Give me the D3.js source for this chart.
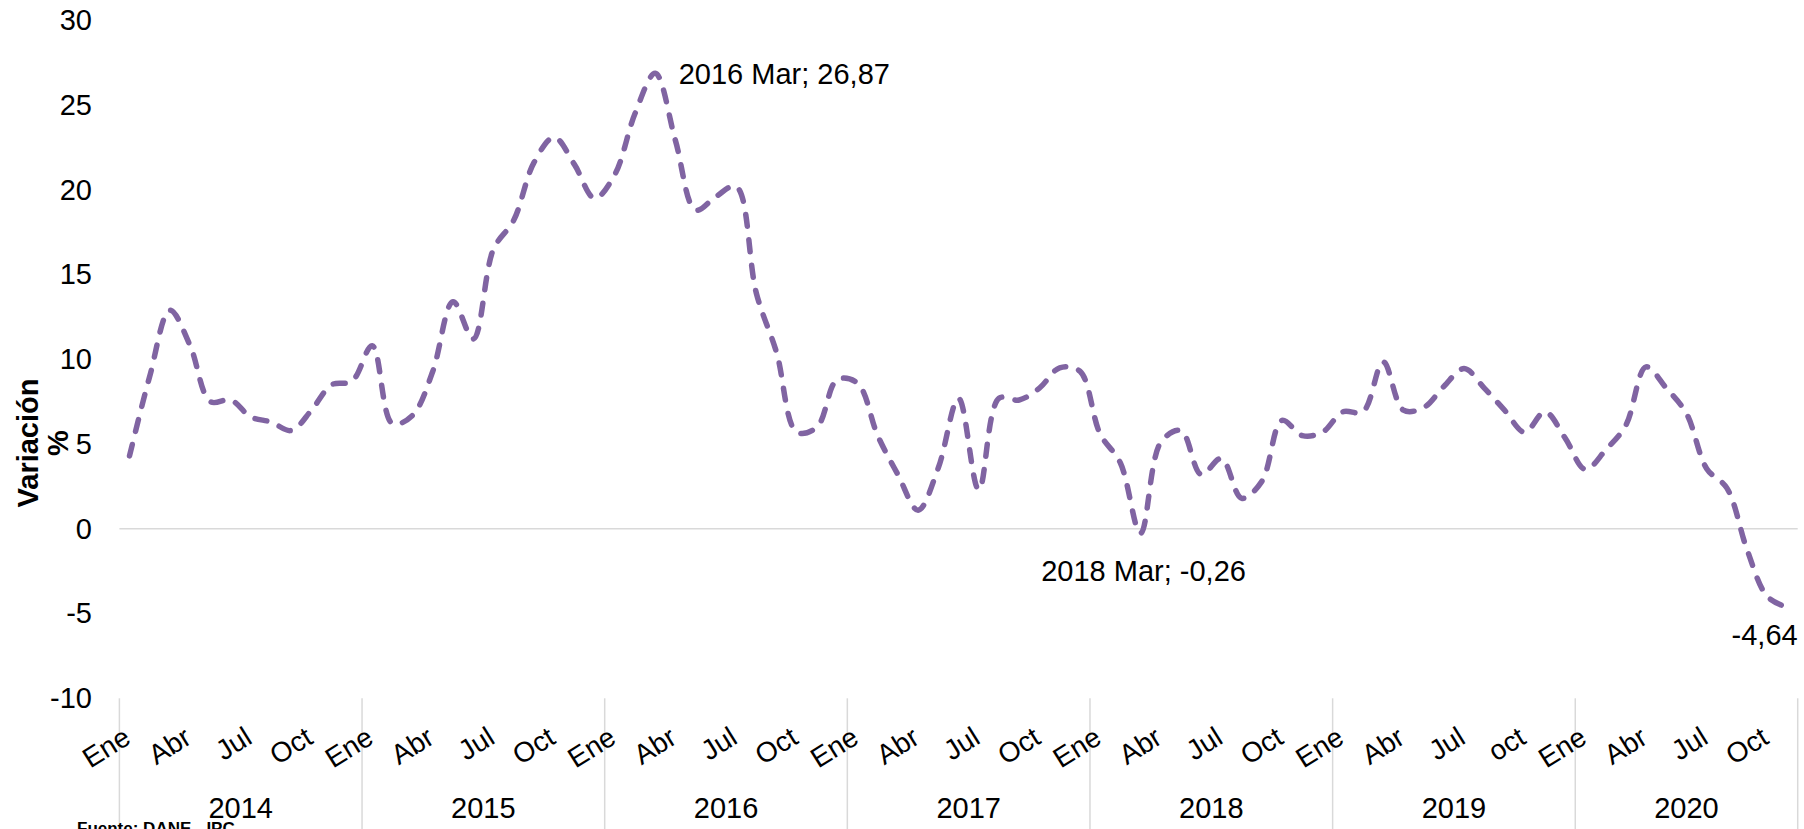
<!DOCTYPE html>
<html>
<head>
<meta charset="utf-8">
<script src="https://cdn.jsdelivr.net/npm/d3@7"></script>
<style>
  html, body { margin: 0; padding: 0; background: #ffffff; }
  svg { display: block; font-family: "Liberation Sans", Arial, sans-serif; }
</style>
</head>
<body>
<svg id="chart" width="1804" height="829"></svg>
<script>
// ---------------- DATA ----------------
const years = ["2014", "2015", "2016", "2017", "2018", "2019", "2020"];
const monthNames = ["Ene", "Feb", "Mar", "Abr", "May", "Jun", "Jul", "Ago", "Sep", "Oct", "Nov", "Dic"];
// Shown category labels (every 3rd month), per year
const tickLabels2014 = ["Ene", "Abr", "Jul", "Oct"];
const tickLabels2015 = ["Ene", "Abr", "Jul", "Oct"];
const tickLabels2016 = ["Ene", "Abr", "Jul", "Oct"];
const tickLabels2017 = ["Ene", "Abr", "Jul", "Oct"];
const tickLabels2018 = ["Ene", "Abr", "Jul", "Oct"];
const tickLabels2019 = ["Ene", "Abr", "Jul", "oct"];
const tickLabels2020 = ["Ene", "Abr", "Jul", "Oct"];

// Variación % (monthly)
const values2014 = [4.3, 9.0, 12.9, 10.8, 7.5, 7.6, 6.6, 6.3, 5.8, 7.0, 8.5, 8.7];
const values2015 = [10.8, 6.2, 6.7, 9.3, 13.4, 11.2, 16.5, 18.2, 21.6, 23.1, 21.5, 19.5];
const values2016 = [20.9, 24.5, 26.87, 22.9, 18.8, 19.6, 20.2, 13.9, 10.4, 5.7, 6.0, 8.8];
const values2017 = [8.6, 5.5, 3.2, 1.1, 3.6, 7.7, 2.3, 7.7, 7.6, 8.3, 9.5, 9.3];
const values2018 = [5.6, 3.9, -0.26, 5.1, 5.8, 3.2, 4.15, 1.8, 2.8, 6.4, 5.5, 5.7];
const values2019 = [6.9, 6.9, 9.85, 7.0, 7.15, 8.4, 9.45, 8.3, 7.0, 5.7, 6.9, 5.35];
const values2020 = [3.5, 4.65, 6.1, 9.55, 8.3, 6.8, 3.55, 2.4, -1.25, -4.0, -4.64];

const yTicks = [-10, -5, 0, 5, 10, 15, 20, 25, 30];

const annotations = [
  { year: "2016", month: 2, text: "2016 Mar; 26,87", pos: "right" },
  { year: "2018", month: 2, text: "2018 Mar; -0,26", pos: "below" },
  { year: "2020", month: 10, text: "-4,64", pos: "belowEnd" }
];

const yAxisTitle = ["Variación", "%"];
const sourceText = "Fuente: DANE - IPC";

// ---------------- BUILD ----------------
const seriesByYear = [values2014, values2015, values2016, values2017, values2018, values2019, values2020];
const tickLabelsByYear = [tickLabels2014, tickLabels2015, tickLabels2016, tickLabels2017, tickLabels2018, tickLabels2019, tickLabels2020];

const data = [];
years.forEach((yr, yi) => {
  seriesByYear[yi].forEach((v, mi) => {
    data.push({ key: yr + "-" + mi, year: yr, month: mi, label: monthNames[mi], value: v });
  });
});

const tickMap = new Map();
years.forEach((yr, yi) => {
  tickLabelsByYear[yi].forEach((lab, k) => tickMap.set(yr + "-" + (k * 3), lab));
});

const svg = d3.select("#chart");
const plotLeft = 119.4, plotRight = 1797.7, plotTop = 20.3, plotBottom = 698.3;

const x = d3.scaleBand().domain(data.map(d => d.key)).range([plotLeft, plotRight]).padding(0);
const y = d3.scaleLinear().domain([-10, 30]).range([plotBottom, plotTop]);
const cx = d => x(d.key) + x.bandwidth() / 2;

// zero gridline
svg.append("line")
  .attr("x1", plotLeft).attr("x2", plotRight)
  .attr("y1", y(0)).attr("y2", y(0))
  .attr("stroke", "#d9d9d9").attr("stroke-width", 1.5);

// year separators (multi-level category axis)
const yearStarts = years.map(yr => x(yr + "-0"));
yearStarts.push(plotRight);
svg.append("g").selectAll("line").data(yearStarts).join("line")
  .attr("x1", d => d).attr("x2", d => d)
  .attr("y1", plotBottom).attr("y2", 829)
  .attr("stroke", "#d9d9d9").attr("stroke-width", 1.5);

// Y axis
const yAxis = d3.axisLeft(y).tickValues(yTicks).tickSize(0).tickPadding(27.4)
  .tickFormat(d => String(d));
const gy = svg.append("g").attr("transform", `translate(${plotLeft},0)`).call(yAxis);
gy.select(".domain").remove();
gy.selectAll("text")
  .attr("font-size", 29)
  .attr("font-family", "Liberation Sans, Arial, sans-serif")
  .attr("fill", "#000");

// X axis (month labels)
const xAxis = d3.axisBottom(x)
  .tickValues(data.filter(d => tickMap.has(d.key)).map(d => d.key))
  .tickSize(0)
  .tickFormat(k => tickMap.get(k));
const gx = svg.append("g").attr("transform", `translate(0,${plotBottom})`).call(xAxis);
gx.select(".domain").remove();
gx.selectAll(".tick text")
  .attr("font-size", 28)
  .attr("font-family", "Liberation Sans, Arial, sans-serif")
  .attr("fill", "#000")
  .attr("text-anchor", "end")
  .attr("y", 0).attr("dy", 0)
  .attr("transform", "translate(3,44) rotate(-32)");

// Year labels
svg.append("g").selectAll("text").data(years).join("text")
  .attr("x", (yr) => {
    const yi = years.indexOf(yr);
    return (yearStarts[yi] + yearStarts[yi + 1]) / 2;
  })
  .attr("y", 818)
  .attr("text-anchor", "middle")
  .attr("font-size", 29)
  .attr("fill", "#000")
  .text(d => d);

// Line
const line = d3.line()
  .x(d => cx(d))
  .y(d => y(d.value))
  .curve(d3.curveCatmullRom.alpha(0.5));

svg.append("path")
  .datum(data)
  .attr("d", line)
  .attr("fill", "none")
  .attr("stroke", "#8064a2")
  .attr("stroke-width", 5.5)
  .attr("stroke-linecap", "round")
  .attr("stroke-dasharray", "12 13.5");

// Annotations
annotations.forEach(a => {
  const d = data.find(p => p.year === a.year && p.month === a.month);
  const px = cx(d), py = y(d.value);
  const t = svg.append("text")
    .attr("font-size", 29)
    .attr("fill", "#000")
    .text(a.text);
  if (a.pos === "right") {
    t.attr("x", px + 23.5).attr("y", py + 11).attr("text-anchor", "start");
  } else if (a.pos === "below") {
    t.attr("x", px + 3).attr("y", py + 48).attr("text-anchor", "middle");
  } else {
    t.attr("x", plotRight).attr("y", py + 37.5).attr("text-anchor", "end");
  }
});

// Y axis title (two lines, rotated)
const title = svg.append("text")
  .attr("transform", "translate(38,443) rotate(-90)")
  .attr("text-anchor", "middle")
  .attr("font-size", 29)
  .attr("font-weight", "bold")
  .attr("fill", "#000");
title.append("tspan").attr("x", 0).attr("y", 0).text(yAxisTitle[0]);
title.append("tspan").attr("x", 0).attr("y", 30).text(yAxisTitle[1]);

// Source
svg.append("text")
  .attr("x", 77).attr("y", 834)
  .attr("font-size", 17)
  .attr("font-weight", "bold")
  .attr("fill", "#000")
  .text(sourceText);
</script>
</body>
</html>
